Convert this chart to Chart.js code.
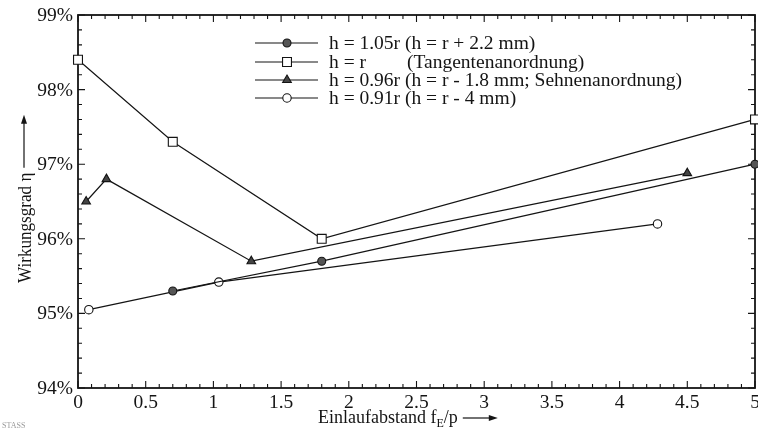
<!DOCTYPE html>
<html>
<head>
<meta charset="utf-8">
<script src="https://cdn.jsdelivr.net/npm/chart.js@4.4.0/dist/chart.umd.min.js"></script>
<style>
  html, body { margin: 0; padding: 0; background: #fff; }
  canvas { display: block; }
</style>
</head>
<body>
<canvas id="chart" width="758" height="430"></canvas>
<script>
// axis ticks
const xTickValues = [0, 0.5, 1, 1.5, 2, 2.5, 3, 3.5, 4, 4.5, 5];
const xTickLabels = ["0", "0.5", "1", "1.5", "2", "2.5", "3", "3.5", "4", "4.5", "5"];
const yTickValues = [94, 95, 96, 97, 98, 99];
const yTickLabels = ["94%", "95%", "96%", "97%", "98%", "99%"];

// h = 1.05r
const s105X = [0.7, 1.8, 5.0];
const s105Y = [95.3, 95.7, 97.0];
// h = r
const s100X = [0, 0.7, 1.8, 5.0];
const s100Y = [98.4, 97.3, 96.0, 97.6];
// h = 0.96r
const s096X = [0.06, 0.21, 1.28, 4.5];
const s096Y = [96.5, 96.8, 95.7, 96.88];
// h = 0.91r
const s091X = [0.08, 1.04, 4.28];
const s091Y = [95.05, 95.42, 96.2];

const legendMain = ["h = 1.05r", "h = r", "h = 0.96r", "h = 0.91r"];
const legendNote = ["(h = r + 2.2 mm)", "(Tangentenanordnung)", "(h = r - 1.8 mm; Sehnenanordnung)", "(h = r - 4 mm)"];

const SERIF = '"Liberation Serif", "DejaVu Serif", serif';
const INK = "#141414";

function pts(xs, ys) {
  return xs.map((x, i) => ({ x: x, y: ys[i] }));
}

function makeSet(xs, ys, style, radius, fill) {
  return {
    data: pts(xs, ys),
    showLine: true,
    borderColor: INK,
    borderWidth: 1.2,
    pointStyle: style,
    pointRadius: radius,
    pointBorderWidth: 1.1,
    pointBorderColor: INK,
    pointBackgroundColor: fill,
    clip: false,
  };
}

const datasets = [
  makeSet(s105X, s105Y, "circle", 4, "#555"),
  makeSet(s100X, s100Y, "rect", 6.3, "#fff"),
  makeSet(s096X, s096Y, "triangle", 5, "#444"),
  makeSet(s091X, s091Y, "circle", 4.2, "#fff"),
];

function marker(ctx, ds, x, y) {
  const r = ds.pointRadius;
  ctx.save();
  ctx.fillStyle = ds.pointBackgroundColor;
  ctx.strokeStyle = ds.pointBorderColor;
  ctx.lineWidth = ds.pointBorderWidth;
  ctx.beginPath();
  if (ds.pointStyle === "circle") {
    ctx.arc(x, y, r, 0, Math.PI * 2);
  } else if (ds.pointStyle === "rect") {
    const s = r * Math.SQRT1_2;
    ctx.rect(x - s, y - s, s * 2, s * 2);
  } else {
    ctx.moveTo(x, y - r);
    ctx.lineTo(x + r * Math.sin(Math.PI * 2 / 3), y + r / 2);
    ctx.lineTo(x - r * Math.sin(Math.PI * 2 / 3), y + r / 2);
    ctx.closePath();
  }
  ctx.fill();
  ctx.stroke();
  ctx.restore();
}

function arrow(ctx, x1, y1, x2, y2) {
  const a = Math.atan2(y2 - y1, x2 - x1);
  ctx.beginPath();
  ctx.moveTo(x1, y1);
  ctx.lineTo(x2 - 6 * Math.cos(a), y2 - 6 * Math.sin(a));
  ctx.stroke();
  ctx.beginPath();
  ctx.moveTo(x2, y2);
  ctx.lineTo(x2 - 9 * Math.cos(a) + 3 * Math.sin(a), y2 - 9 * Math.sin(a) - 3 * Math.cos(a));
  ctx.lineTo(x2 - 9 * Math.cos(a) - 3 * Math.sin(a), y2 - 9 * Math.sin(a) + 3 * Math.cos(a));
  ctx.closePath();
  ctx.fill();
}

// frame with inward ticks, drawn under the lines
const framePlugin = {
  id: "frame",
  beforeDatasetsDraw(chart) {
    const { ctx, chartArea: a, scales } = chart;
    ctx.save();
    ctx.strokeStyle = INK;
    ctx.lineWidth = 1.8;
    ctx.strokeRect(a.left, a.top, a.right - a.left, a.bottom - a.top);
    ctx.lineWidth = 1.1;
    ctx.beginPath();
    for (let i = 0; i <= 50; i++) {
      const px = scales.x.getPixelForValue(i / 10);
      const len = i % 5 === 0 ? 7 : 4;
      ctx.moveTo(px, a.bottom); ctx.lineTo(px, a.bottom - len);
      ctx.moveTo(px, a.top); ctx.lineTo(px, a.top + len);
    }
    for (let i = 0; i <= 25; i++) {
      const py = scales.y.getPixelForValue(94 + i * 0.2);
      const len = i % 5 === 0 ? 7 : 4;
      ctx.moveTo(a.left, py); ctx.lineTo(a.left + len, py);
      ctx.moveTo(a.right, py); ctx.lineTo(a.right - len, py);
    }
    ctx.stroke();
    ctx.restore();
  },
  afterDraw(chart) {
    const { ctx, chartArea: a, scales } = chart;
    ctx.save();
    ctx.fillStyle = INK;
    ctx.strokeStyle = INK;

    // tick labels
    ctx.font = "19.5px " + SERIF;
    ctx.textAlign = "center";
    ctx.textBaseline = "alphabetic";
    xTickValues.forEach((v, i) => {
      ctx.fillText(xTickLabels[i], scales.x.getPixelForValue(v), a.bottom + 20);
    });
    ctx.textAlign = "right";
    yTickValues.forEach((v, i) => {
      ctx.fillText(yTickLabels[i], a.left - 5, scales.y.getPixelForValue(v) + 6);
    });

    // x title with subscript
    ctx.textAlign = "left";
    ctx.font = "18px " + SERIF;
    let tx = 318;
    const ty = 423;
    const t1 = "Einlaufabstand f";
    ctx.fillText(t1, tx, ty);
    tx += ctx.measureText(t1).width;
    ctx.font = "12px " + SERIF;
    ctx.fillText("E", tx, ty + 4);
    tx += ctx.measureText("E").width;
    ctx.font = "18px " + SERIF;
    ctx.fillText("/p", tx, ty);
    tx += ctx.measureText("/p").width;
    ctx.lineWidth = 1.2;
    arrow(ctx, tx + 5, ty - 5, tx + 40, ty - 5);

    // y title, rotated
    ctx.save();
    ctx.translate(31, 283);
    ctx.rotate(-Math.PI / 2);
    ctx.scale(0.9, 1);
    ctx.font = "19px " + SERIF;
    const yt = "Wirkungsgrad η";
    ctx.fillText(yt, 0, 0);
    const w = ctx.measureText(yt).width;
    ctx.restore();
    const yEnd = 283 - w * 0.9;
    arrow(ctx, 24, yEnd - 5, 24, yEnd - 58);

    // legend inside plot
    ctx.font = "19.5px " + SERIF;
    const rows = [43, 62, 80, 98];
    datasets.forEach((ds, i) => {
      const y = rows[i];
      ctx.lineWidth = 1.2;
      ctx.beginPath();
      ctx.moveTo(255, y); ctx.lineTo(318, y);
      ctx.stroke();
      marker(ctx, ds, 287, y);
      ctx.fillStyle = INK;
      ctx.fillText(legendMain[i], 329, y + 6);
      ctx.fillText(legendNote[i], i === 1 ? 407 : 329 + ctx.measureText(legendMain[i] + " ").width, y + 6);
    });

    ctx.font = "8px " + SERIF;
    ctx.fillStyle = "#999";
    ctx.fillText("STASS", 2, 428);
    ctx.restore();
  },
};

new Chart(document.getElementById("chart").getContext("2d"), {
  type: "scatter",
  data: { datasets: datasets },
  options: {
    responsive: false,
    animation: false,
    layout: { autoPadding: false, padding: { left: 78, right: 3, top: 15, bottom: 42 } },
    elements: { line: { tension: 0 } },
    scales: {
      x: { type: "linear", min: 0, max: 5, display: false },
      y: { type: "linear", min: 94, max: 99, display: false },
    },
    plugins: {
      legend: { display: false },
      tooltip: { enabled: false },
    },
  },
  plugins: [framePlugin],
});
</script>
</body>
</html>
